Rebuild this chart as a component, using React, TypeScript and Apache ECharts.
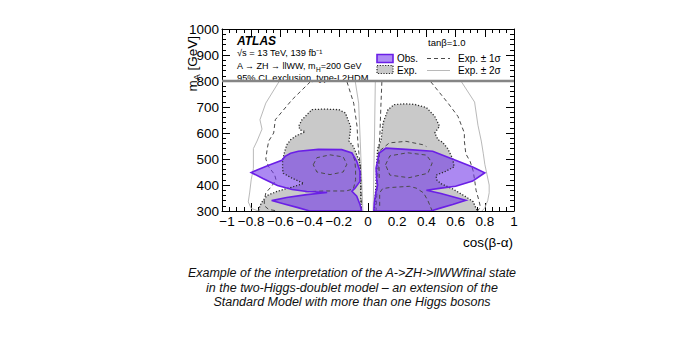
import React, { useEffect, useRef } from "react";
import * as echarts from "echarts";

const FONT = "Liberation Sans, Arial, Helvetica, sans-serif";

// axis ranges / ticks
const xRange = [-1, 1];
const yRange = [300, 1000];
const xStep = 0.2;
const yStep = 100;
const legendFloor = [[-1, 800], [1, 800]];

// observed exclusion (purple)
const obsLeft = [[-0.043,300],[-0.055,325],[-0.077,357],[-0.11,376],[-0.089,388],[-0.055,414],[-0.055,453],[-0.077,491],[-0.11,523],[-0.18,536],[-0.34,537],[-0.477,530],[-0.53,522],[-0.568,510],[-0.59,495],[-0.68,476],[-0.76,458],[-0.80,448],[-0.72,425],[-0.62,398],[-0.52,383],[-0.42,375],[-0.28,371],[-0.42,363],[-0.557,352],[-0.66,340],[-0.58,328],[-0.48,313],[-0.40,300]];
const obsRight = [[0.04,300],[0.043,330],[0.055,375],[0.066,400],[0.06,414],[0.055,465],[0.077,523],[0.123,542],[0.26,537],[0.443,530],[0.534,510],[0.60,495],[0.717,469],[0.80,447],[0.717,415],[0.60,395],[0.50,388],[0.40,380],[0.50,367],[0.60,352],[0.67,341],[0.58,325],[0.50,312],[0.43,300]];

// expected exclusion (grey)
const expLeft = [[-0.045,300],[-0.05,360],[-0.05,420],[-0.055,484],[-0.08,520],[-0.10,548],[-0.13,569],[-0.12,611],[-0.12,626],[-0.155,677],[-0.2,690],[-0.30,692],[-0.384,690],[-0.452,651],[-0.475,626],[-0.465,612],[-0.43,605],[-0.49,590],[-0.53,574],[-0.557,554],[-0.575,520],[-0.585,492],[-0.585,460],[-0.58,445],[-0.52,426],[-0.44,406],[-0.52,392],[-0.62,376],[-0.69,360],[-0.72,340],[-0.74,320],[-0.75,300]];
const expRight = [[0.043,300],[0.05,360],[0.055,411],[0.06,480],[0.066,540],[0.09,574],[0.103,638],[0.137,690],[0.18,709],[0.25,712],[0.32,710],[0.40,698],[0.457,664],[0.49,626],[0.457,600],[0.48,574],[0.51,565],[0.546,540],[0.58,501],[0.59,470],[0.53,452],[0.466,438],[0.47,420],[0.50,405],[0.58,385],[0.67,355],[0.72,336],[0.74,310],[0.75,300]];

// expected +-1 sigma (dashed)
const sig1LeftOuter = [[-0.395,797],[-0.52,728],[-0.635,651],[-0.646,600],[-0.68,569],[-0.69,540],[-0.70,500],[-0.68,470],[-0.64,440],[-0.63,420],[-0.66,395],[-0.70,370],[-0.71,340],[-0.71,320],[-0.68,306],[-0.62,300]];
const sig1LeftInner = [[-0.144,797],[-0.098,715],[-0.075,626],[-0.07,569],[-0.062,520],[-0.052,470],[-0.048,400],[-0.045,300]];
const sig1RightInner = [[0.095,797],[0.088,700],[0.082,600],[0.075,540],[0.07,480],[0.065,420],[0.06,360],[0.055,300]];
const sig1RightOuter = [[0.43,797],[0.548,715],[0.616,664],[0.66,600],[0.66,569],[0.67,520],[0.70,490],[0.72,455],[0.73,420],[0.74,380],[0.76,340],[0.77,315],[0.75,300]];
const sig1LeftLoop = [[-0.375,478],[-0.35,505],[-0.26,516],[-0.17,508],[-0.145,480],[-0.17,450],[-0.26,440],[-0.35,450],[-0.375,478]];
const sig1LeftLow = [[-0.43,374],[-0.30,377],[-0.15,377],[-0.10,385],[-0.085,420],[-0.085,460],[-0.09,492],[-0.10,512]];
const sig1RightTop = [[0.077,427],[0.075,480],[0.077,530],[0.146,562],[0.26,568],[0.375,555],[0.40,548]];
const sig1RightLoop = [[0.12,478],[0.15,512],[0.27,524],[0.40,515],[0.44,485],[0.41,445],[0.28,428],[0.15,438],[0.12,478]];
const sig1RightLow = [[0.08,320],[0.08,370],[0.10,386],[0.146,390],[0.283,395],[0.33,388],[0.38,370],[0.41,340],[0.44,300]];

// expected +-2 sigma (light grey)
const sig2LeftOuter = [[-0.61,797],[-0.70,715],[-0.74,651],[-0.726,615],[-0.76,569],[-0.785,540],[-0.785,463],[-0.80,420],[-0.81,373],[-0.82,335],[-0.80,310],[-0.75,300]];
const sig2LeftInner = [[-0.087,797],[-0.064,715],[-0.053,569],[-0.045,450],[-0.035,300]];
const sig2RightInner = [[0.05,797],[0.045,600],[0.04,450],[0.035,300]];
const sig2RightOuter = [[0.64,797],[0.73,719],[0.753,630],[0.776,569],[0.79,520],[0.80,480],[0.815,440],[0.83,400],[0.83,370],[0.82,340],[0.80,312],[0.78,300]];

const captionLines = [
  "Example of the interpretation of the A->ZH->llWWfinal state",
  "in the two-Higgs-doublet model \u2013 an extension of the",
  "Standard Model with more than one Higgs bosons",
];

const OBS_FILL = "rgba(112, 52, 232, 0.58)";
const OBS_LINE = "#6a1fe6";
const GREY_FILL = "#c9c9c9";

function shapeSeries(points: number[][], closed: boolean, style: any) {
  return {
    type: "custom",
    coordinateSystem: "cartesian2d",
    xAxisIndex: 0,
    yAxisIndex: 0,
    silent: true,
    clip: true,
    data: [[0, 500]],
    renderItem: (_p: any, api: any) => ({
      type: closed ? "polygon" : "polyline",
      shape: { points: points.map((pt) => api.coord(pt)) },
      style: closed ? style : { fill: null, ...style },
    }),
  };
}

const fmtX = (v: number) => {
  const r = Math.round(v * 10) / 10;
  if (r === 0) return "0";
  const s = (r < 0 ? "\u2212" : "") + String(Math.abs(r));
  return r === xRange[0] ? "{first|" + s + "}" : s;
};

export default function App() {
  const ref = useRef<HTMLDivElement>(null);
  useEffect(() => {
    document.body.style.margin = "0";
    const chart = echarts.init(ref.current!, null, { renderer: "svg" });
    const tickCommon = {
      axisLine: { show: true, onZero: false, lineStyle: { color: "#000", width: 1 } },
      axisTick: { show: true, inside: true, length: 8, lineStyle: { color: "#000" } },
      splitLine: { show: false },
    };
    const dashed = { stroke: "#4a4a4a", lineWidth: 1, lineDash: [4, 3] };
    const light = { stroke: "#b9b9b9", lineWidth: 1 };
    const dotted = { stroke: "#2a2a2a", lineWidth: 1.3, lineDash: [1.2, 1.8] };
    const txt = (x: number, y: number, text: string, size: number, extra: any = {}) => ({
      type: "text", x, y,
      style: { text, fontSize: size, fontFamily: FONT, fill: "#000", verticalAlign: "middle", ...extra },
    });
    const option: any = {
      animation: false,
      grid: { left: 222, right: 170, top: 29, bottom: 144, show: false },
      xAxis: [
        {
          type: "value", min: xRange[0], max: xRange[1], interval: xStep, position: "bottom",
          ...tickCommon,
          minorTick: { show: true, splitNumber: 4, length: 4, lineStyle: { color: "#000" } },
          axisLabel: {
            formatter: fmtX, color: "#000", fontSize: 13.5, fontFamily: FONT, margin: 3,
            rich: { first: { fontSize: 13.5, fontFamily: FONT, color: "#000", padding: [0, 0, 0, 10] } },
          },
        },
        {
          type: "value", min: xRange[0], max: xRange[1], interval: xStep, position: "top",
          ...tickCommon,
          minorTick: { show: true, splitNumber: 4, length: 4, lineStyle: { color: "#000" } },
          axisLabel: { show: false },
        },
      ],
      yAxis: [
        {
          type: "value", min: yRange[0], max: yRange[1], interval: yStep, position: "left",
          ...tickCommon,
          minorTick: { show: true, splitNumber: 5, length: 4, lineStyle: { color: "#000" } },
          axisLabel: { formatter: (v: number) => String(v), color: "#000", fontSize: 13.5, fontFamily: FONT, margin: 3 },
        },
        {
          type: "value", min: yRange[0], max: yRange[1], interval: yStep, position: "right",
          ...tickCommon,
          minorTick: { show: true, splitNumber: 5, length: 4, lineStyle: { color: "#000" } },
          axisLabel: { show: false },
        },
      ],
      series: [
        shapeSeries(sig2LeftOuter, false, light),
        shapeSeries(sig2LeftInner, false, light),
        shapeSeries(sig2RightInner, false, light),
        shapeSeries(sig2RightOuter, false, light),
        shapeSeries(expLeft, true, { fill: GREY_FILL }),
        shapeSeries(expRight, true, { fill: GREY_FILL }),
        shapeSeries(sig1LeftOuter, false, dashed),
        shapeSeries(sig1LeftInner, false, dashed),
        shapeSeries(sig1RightInner, false, dashed),
        shapeSeries(sig1RightOuter, false, dashed),
        shapeSeries(obsLeft, true, { fill: OBS_FILL }),
        shapeSeries(obsRight, true, { fill: OBS_FILL }),
        shapeSeries(expLeft, false, { ...dotted, fill: null }),
        shapeSeries(expRight, false, { ...dotted, fill: null }),
        shapeSeries(sig1LeftLoop, false, dashed),
        shapeSeries(sig1LeftLow, false, dashed),
        shapeSeries(sig1RightTop, false, dashed),
        shapeSeries(sig1RightLoop, false, dashed),
        shapeSeries(sig1RightLow, false, dashed),
        shapeSeries(obsLeft.concat([obsLeft[0]]), false, { stroke: OBS_LINE, lineWidth: 1.6 }),
        shapeSeries(obsRight.concat([obsRight[0]]), false, { stroke: OBS_LINE, lineWidth: 1.6 }),
        {
          type: "line", data: legendFloor, symbol: "none", silent: true,
          lineStyle: { color: "#858585", width: 2.5 }, z: 5,
        },
      ],
      graphic: [
        {
          type: "text", x: 192, y: 36, rotation: Math.PI / 2,
          style: {
            text: "{a|m}{b|A}{a| [GeV]}", align: "right", verticalAlign: "middle",
            rich: {
              a: { fontSize: 13.5, lineHeight: 13, verticalAlign: "top", fontFamily: FONT, fill: "#000" },
              b: { fontSize: 9, lineHeight: 9, verticalAlign: "top", padding: [7, 0, 0, 0], fontFamily: FONT, fill: "#000" },
            },
          },
        },
        txt(513, 242, "cos(\u03b2-\u03b1)", 13.5, { align: "right" }),
        txt(237, 41, "ATLAS", 12, { fontWeight: "bold", fontStyle: "italic" }),
        txt(237, 53, "\u221as = 13 TeV, 139 fb\u207b\u00b9", 9.3),
        {
          type: "text", x: 237, y: 65.5,
          style: {
            text: "{n|A \u2192 ZH \u2192 llWW, m}{s|H}{n|=200 GeV}", verticalAlign: "middle",
            rich: {
              n: { fontSize: 9, lineHeight: 9, verticalAlign: "top", fontFamily: FONT, fill: "#000" },
              s: { fontSize: 6.5, lineHeight: 6.5, verticalAlign: "top", padding: [4.5, 0, 0, 0], fontFamily: FONT, fill: "#000" },
            },
          },
        },
        txt(237, 77.5, "95% CL exclusion, type-I 2HDM", 9.3),
        txt(428, 42, "tan\u03b2=1.0", 9.5),
        { type: "rect", shape: { x: 377, y: 54.5, width: 16, height: 8 }, style: { fill: "rgba(175,140,245,1)", stroke: OBS_LINE, lineWidth: 1.6 } },
        txt(397, 58, "Obs.", 10),
        { type: "rect", shape: { x: 377, y: 65.5, width: 16, height: 8 }, style: { fill: GREY_FILL, stroke: "#2a2a2a", lineWidth: 1.2, lineDash: [1.2, 1.5] } },
        txt(397, 70, "Exp.", 10),
        { type: "line", shape: { x1: 427, y1: 58.5, x2: 450, y2: 58.5 }, style: { stroke: "#4a4a4a", lineWidth: 1, lineDash: [4, 3] } },
        txt(458, 58.5, "Exp. \u00b1 1\u03c3", 10),
        { type: "line", shape: { x1: 427, y1: 70.5, x2: 450, y2: 70.5 }, style: { stroke: "#b9b9b9", lineWidth: 1 } },
        txt(458, 70.5, "Exp. \u00b1 2\u03c3", 10),
        ...captionLines.map((t, i) =>
          txt(352, 273 + i * 14.5, t, 12.5, { align: "center", fontStyle: "italic", fill: "#111" })
        ),
      ],
    };
    chart.setOption(option);
    return () => chart.dispose();
  }, []);
  return <div ref={ref} style={{ position: "absolute", left: 0, top: 0, width: 684, height: 355, background: "#fff" }} />;
}
